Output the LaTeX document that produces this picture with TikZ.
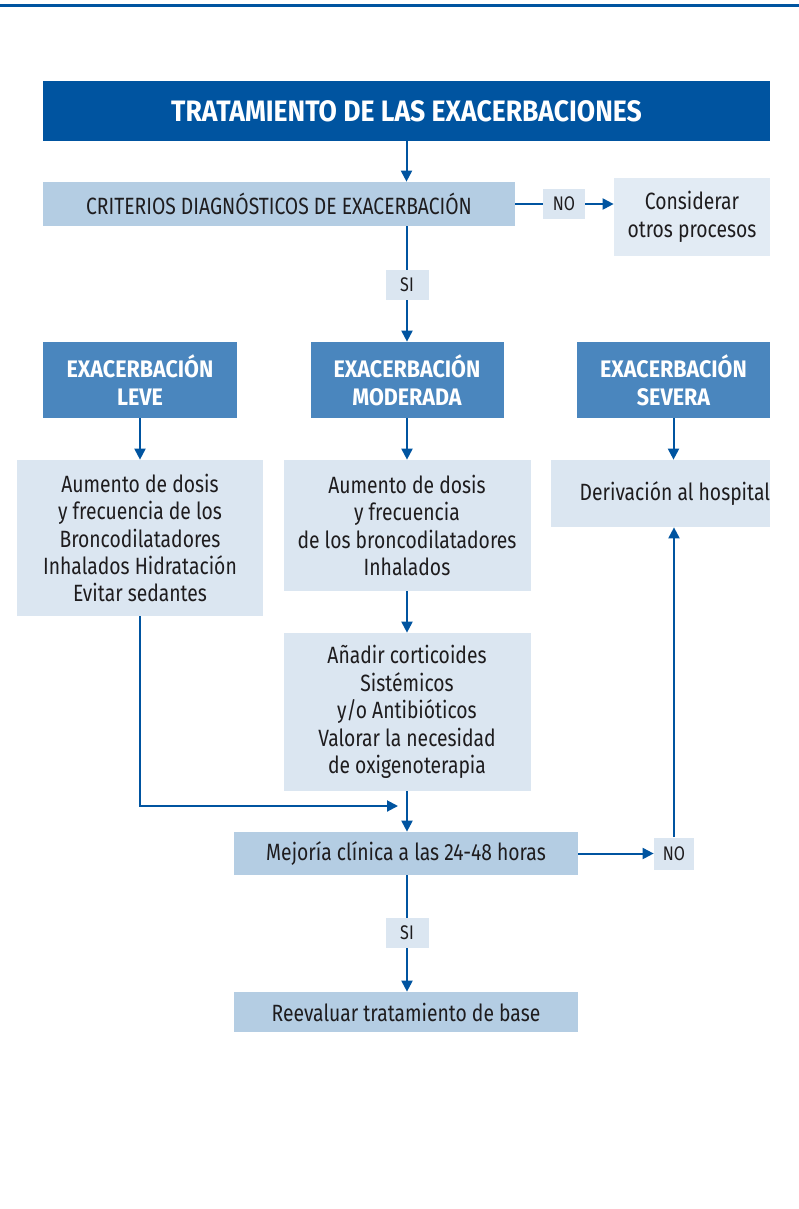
\documentclass[tikz,border=0pt]{standalone}
\usepackage{fontspec}
\setmainfont[FakeStretch=0.82]{Fira Sans}
\newfontfamily\headfont[FakeStretch=0.9]{Fira Sans}
\usetikzlibrary{arrows.meta,calc}
\definecolor{darkblue}{RGB}{0,84,160}
\definecolor{midblue}{RGB}{74,134,190}
\definecolor{paleblue}{RGB}{180,205,227}
\definecolor{lightblue}{RGB}{219,230,241}
\definecolor{textgray}{RGB}{30,28,30}

\tikzset{
  box/.style={rectangle, inner sep=0pt, align=center, text=textgray, font=\fontsize{13.4}{15.6}\selectfont},
  titlebox/.style={box, fill=darkblue, text=white, font=\headfont\bfseries\fontsize{16.8}{19}\selectfont},
  headbox/.style={box, fill=midblue, text=white, font=\headfont\bfseries\fontsize{13.6}{15.9}\selectfont},
  keybox/.style={box, fill=paleblue},
  infobox/.style={box, fill=lightblue},
  tagbox/.style={box, fill=lightblue, font=\fontsize{11.2}{12}\selectfont},
  link/.style={draw=darkblue, line width=0.4mm},
  arrow/.style={link, -{Triangle[length=2.2mm,width=2.2mm]}},
}

\begin{document}
\begin{tikzpicture}[x=0.2mm, y=-0.2mm]
    \useasboundingbox (0,0) rectangle (799,1209);
    % Top rule
    \draw[darkblue, line width=0.6mm] (0,5) -- (799,5);

    % Title and diagnosis
    \node[titlebox, minimum width=145.4mm, minimum height=12mm] (title) at (406.5,111) {TRATAMIENTO DE LAS EXACERBACIONES};
    \node[keybox, minimum width=94.4mm, minimum height=8.8mm] (crit) at (279,204) {CRITERIOS DIAGNÓSTICOS DE EXACERBACIÓN};
    \node[tagbox, minimum width=8.4mm, minimum height=6mm] (no1) at (564,204) {NO};
    \node[infobox, minimum width=31.2mm, minimum height=15.6mm, fill=lightblue!80] (otros) at (692,217) {Considerar\\otros procesos};
    \node[tagbox, minimum width=8.6mm, minimum height=6mm] (si1) at (407,285) {SI};

    % Severity headers
    \node[headbox, minimum width=38.8mm, minimum height=15.2mm] (leve) at (140,380) {EXACERBACIÓN\\LEVE};
    \node[headbox, minimum width=38.6mm, minimum height=15.2mm] (mod) at (407,380) {EXACERBACIÓN\\MODERADA};
    \node[headbox, minimum width=38.6mm, minimum height=15.2mm] (sev) at (673.5,380) {EXACERBACIÓN\\SEVERA};

    % Treatments
    \node[infobox, minimum width=49.2mm, minimum height=31.2mm] (leveTx) at (140,538) {Aumento de dosis\\y frecuencia de los\\Broncodilatadores\\Inhalados Hidratación\\Evitar sedantes};
    \node[infobox, minimum width=49.4mm, minimum height=26.2mm] (modTx) at (407,525.5) {Aumento de dosis\\y frecuencia\\de los broncodilatadores\\Inhalados};
    \node[infobox, text width=43.8mm, minimum height=13.4mm, align=flush right] (sevTx) at (660.5,493.5) {Derivación al hospital};
    \node[infobox, minimum width=49.4mm, minimum height=31.6mm] (anadir) at (407,712) {Añadir corticoides\\Sistémicos\\y/o Antibióticos\\Valorar la necesidad\\de oxigenoterapia};

    % Outcome
    \node[keybox, minimum width=68.8mm, minimum height=8.6mm] (mejoria) at (406,853.5) {Mejoría clínica a las 24-48 horas};
    \node[tagbox, minimum width=8mm, minimum height=6.4mm] (no2) at (674,853.5) {NO};
    \node[tagbox, minimum width=8.6mm, minimum height=6mm] (si2) at (407,933) {SI};
    \node[keybox, minimum width=68.8mm, minimum height=8mm] (reeval) at (406,1012) {Reevaluar tratamiento de base};
    \coordinate (join) at (398,806);

    % Connectors
    \draw[arrow] (title.south) -- (title.south |- crit.north);
    \draw[link] (si1.north |- crit.south) -- (si1.north);
    \draw[arrow] (si1.south) -- (mod.north);
    \draw[link] (crit.east) -- (no1.west);
    \draw[arrow] (no1.east) -- (no1.east -| otros.west);
    \draw[arrow] (leve.south) -- (leveTx.north);
    \draw[arrow] (mod.south) -- (modTx.north);
    \draw[arrow] (sev.south) -- (sev.south |- sevTx.north);
    \draw[arrow] (modTx.south) -- (anadir.north);
    \draw[arrow] (anadir.south) -- (anadir.south |- mejoria.north);
    \draw[arrow] (leveTx.south) |- (join);
    \draw[arrow] (mejoria.east) -- (mejoria.east -| no2.west);
    \draw[arrow] (no2.north) -- (no2.north |- sevTx.south);
    \draw[link] (si2.north |- mejoria.south) -- (si2.north);
    \draw[arrow] (si2.south) -- (si2.south |- reeval.north);
\end{tikzpicture}
\end{document}
